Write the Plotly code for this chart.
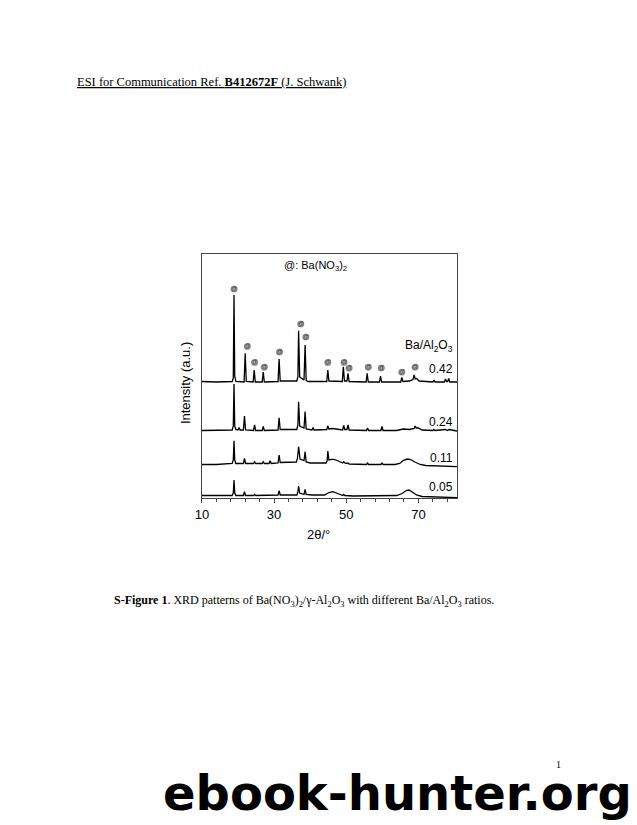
import plotly.graph_objects as go

# page is 637x825; the browser body adds an 8px margin, so the figure is 8px smaller
OFF = 8
W, H = 637 - OFF, 825 - OFF

# ---- data (2θ in degrees, intensity in arbitrary offset units) ----
x_042 = [10.0, 14.0, 18.4, 18.7, 18.9, 19.1, 19.4, 21.7, 22.0, 22.3, 24.2, 24.5, 24.8, 26.7, 27.0, 27.3,
         31.1, 31.4, 31.7, 36.3, 36.6, 36.8, 37.1, 38.3, 38.6, 38.9, 39.5, 44.6, 44.9, 45.2, 48.9, 49.2,
         49.5, 50.2, 50.5, 50.8, 55.5, 55.8, 56.1, 59.2, 59.5, 59.8, 65.1, 65.4, 65.7, 67.5, 68.5, 68.8,
         69.1, 69.5, 70.2, 74.0, 74.3, 74.6, 77.2, 77.5, 77.8, 78.1, 78.4, 78.7, 80.7]
y_042 = [116.5, 116, 116.5, 120, 203, 122, 116.5, 116, 144.7, 116.5, 116, 128, 116, 116, 126, 116,
         116.5, 139, 117, 117, 121, 167.3, 121, 118, 153, 117.5, 116.5, 116.5, 128, 117, 116.5, 131.3,
         117, 117, 124.7, 116.5, 116, 124.7, 116, 116, 122, 116, 116, 120.7, 116.5, 117, 118.5, 123,
         119, 119.5, 117, 116, 118, 116, 116, 119, 116.5, 116.5, 119.5, 116, 116]

x_024 = [10.0, 14.0, 18.4, 18.7, 18.9, 19.1, 19.4, 20.0, 20.3, 20.6, 21.5, 21.8, 22.1, 24.3, 24.6, 24.9,
         26.7, 27.0, 27.3, 31.1, 31.4, 31.7, 36.3, 36.6, 36.8, 37.1, 38.3, 38.6, 38.9, 40.5, 40.8, 41.1,
         44.6, 44.9, 45.2, 46.2, 47.5, 49.0, 49.3, 49.6, 50.2, 50.5, 50.8, 55.6, 55.9, 56.2, 59.6, 59.9,
         60.2, 64.0, 65.8, 67.5, 68.8, 69.1, 69.4, 70.0, 71.0, 74.0, 74.3, 74.6, 77.5, 78.0, 78.5, 80.7]
y_024 = [67.5, 67.5, 68, 72, 114, 72, 68.5, 68, 70.5, 68, 68, 82, 68, 67.5, 73, 67.5,
         67.5, 71.5, 67.5, 68, 80.3, 68.5, 68.5, 73, 96.3, 72, 70, 86.5, 69, 68, 70.5, 68,
         68.5, 72, 69, 69.5, 68.5, 68, 72.5, 68.5, 68.5, 73, 68, 67.5, 70, 67.5, 67.5, 71.5,
         67.5, 67.5, 69, 68.5, 69.5, 72, 70, 70, 68, 67.5, 68.5, 67.5, 68.5, 67.5, 68.5, 67]

x_011 = [10.0, 14.0, 18.4, 18.7, 18.9, 19.1, 19.4, 21.5, 21.8, 22.1, 24.3, 24.6, 24.9, 26.7, 27.0, 27.3,
         28.6, 28.9, 29.2, 31.1, 31.4, 31.7, 36.2, 36.5, 36.8, 37.2, 38.3, 38.6, 38.9, 40.0, 44.4, 44.7,
         44.9, 45.2, 46.0, 46.6, 47.5, 48.5, 49.0, 49.3, 49.6, 50.2, 50.5, 50.8, 55.6, 55.9, 56.2, 59.6,
         59.9, 60.2, 63.5, 64.8, 66.0, 67.0, 67.8, 69.0, 70.5, 72.0, 76.0, 80.7]
y_011 = [33.5, 33.5, 34.5, 38, 57.3, 38, 34.5, 34.5, 39.7, 34.5, 34.5, 36.3, 34.5, 34.5, 36.3, 34.5,
         34.5, 37.3, 34.5, 35, 43, 35.5, 36, 40, 51.3, 39, 37.5, 46.3, 36, 35, 35, 37,
         47, 38, 38.7, 38.7, 37.5, 35.5, 35, 36.3, 35, 34.5, 35, 34, 33.5, 35, 33.5, 33.5,
         35, 33.5, 33.5, 34.5, 38, 39, 38.5, 36, 33.5, 32.5, 32, 31.3]

x_005 = [10.0, 14.0, 18.4, 18.7, 18.9, 19.1, 19.4, 21.5, 21.8, 22.1, 24.3, 24.6, 24.9, 31.1, 31.4, 31.7,
         36.3, 36.6, 36.8, 37.1, 38.3, 38.6, 38.9, 40.5, 44.0, 45.2, 46.3, 47.3, 48.5, 49.0, 49.3, 49.6,
         52.0, 60.0, 64.0, 65.5, 66.6, 67.4, 68.3, 69.5, 71.0, 74.0, 80.7]
y_005 = [2.5, 2.5, 2.5, 5, 18, 5, 2.5, 2.5, 6.3, 2.5, 2.5, 3.5, 2.5, 3, 7.3, 3,
         3, 6, 12, 5, 3.5, 8.7, 3.5, 3, 3, 5.5, 6.3, 5, 3.5, 2.5, 3.5, 2.5,
         2, 2, 2.5, 4.5, 7.5, 8, 6, 3, 1.5, 1, 0.3]

series_x = [x_042, x_024, x_011, x_005]
series_y = [y_042, y_024, y_011, y_005]
series_labels = ["0.42", "0.24", "0.11", "0.05"]
label_y = [129, 76.3, 40, 11]          # label positions in data units

# Ba(NO3)2 reflection markers (@)
marker_x = [18.9, 22.6, 24.6, 27.3, 31.5, 37.4, 38.8, 44.9, 49.4, 50.8, 56.1, 59.7, 65.4, 69.1]
marker_y = [209, 151.3, 135.3, 130.7, 146, 174, 161, 135.3, 135.3, 129.7, 130.7, 130, 125.7, 130.7]

x_ticks = [10, 30, 50, 70]

# ---- layout geometry (target pixels on the 637x825 page) ----
PL, PR, PT, PB = 197, 455, 254, 498
def px(x):
    return (x - OFF) / W
def py(y):
    return 1 - (y - OFF) / H

fig = go.Figure()
for xs, ys in zip(series_x, series_y):
    fig.add_trace(go.Scatter(x=xs, y=ys, mode="lines",
                             line=dict(color="black", width=1.3), showlegend=False, hoverinfo="skip"))

fig.add_trace(go.Scatter(x=marker_x, y=marker_y, mode="markers+text", text=["@"] * len(marker_x),
                         textposition="middle center",
                         textfont=dict(family="Liberation Sans, Arial", size=7, color="#333"),
                         marker=dict(size=7, color="#b0b0b0", line=dict(width=0)),
                         showlegend=False, hoverinfo="skip"))

for lab, yl in zip(series_labels, label_y):
    fig.add_annotation(x=80.2, y=yl, xref="x", yref="y", text=lab, showarrow=False,
                       xanchor="right", yanchor="middle",
                       font=dict(family="Liberation Sans, Arial", size=12, color="black"))

sans = "Liberation Sans, Arial"
serif = "Liberation Serif, Times New Roman"
LSH = 7   # left-anchored text correction

annots = [
    dict(x=px(453), y=py(346), text="Ba/Al<sub>2</sub>O<sub>3</sub>", xanchor="right",
         font=dict(family=sans, size=12, color="black")),
    dict(x=px(312), y=py(266), text="@: Ba(NO<sub>3</sub>)<sub>2</sub>", xanchor="center",
         font=dict(family=sans, size=11, color="black")),
    dict(x=px(315), y=py(534), text="2θ/°", xanchor="center",
         font=dict(family=sans, size=13, color="black")),
    dict(x=px(180), y=py(383), text="Intensity (a.u.)", textangle=-90, xanchor="center",
         font=dict(family=sans, size=13, color="black")),
    dict(x=px(76 - LSH), y=py(82), text="<u>ESI for Communication Ref. <b>B412672F</b> (J. Schwank)</u>",
         xanchor="left", font=dict(family=serif, size=12.5, color="black")),
    dict(x=px(113 - LSH), y=py(601),
         text="<b>S-Figure 1</b>. XRD patterns of Ba(NO<sub>3</sub>)<sub>2</sub>/γ-Al<sub>2</sub>O<sub>3</sub> "
              "with different Ba/Al<sub>2</sub>O<sub>3</sub> ratios.",
         xanchor="left", font=dict(family=serif, size=12, color="black")),
    dict(x=px(558), y=py(764), text="1", xanchor="center",
         font=dict(family=serif, size=10, color="black")),
    dict(x=px(163 - LSH), y=py(793), text="<b>ebook-hunter.org</b>", xanchor="left",
         font=dict(family="DejaVu Sans", size=48, color="black")),
]
for a in annots:
    fig.add_annotation(xref="paper", yref="paper", showarrow=False, yanchor="middle", **a)

fig.update_layout(
    width=W, height=H, autosize=False,
    margin=dict(l=0, r=0, t=0, b=0),
    paper_bgcolor="white", plot_bgcolor="white",
    xaxis=dict(domain=[px(PL), px(PR)], range=[10, 80.7], showgrid=False, zeroline=False,
               showline=True, linecolor="#444", linewidth=1, mirror=True,
               tickvals=x_ticks, ticktext=[str(t) for t in x_ticks],
               ticks="outside", ticklen=4, tickcolor="#444",
               minor=dict(tick0=10, dtick=4, ticks="outside", ticklen=3, tickcolor="#444"),
               tickfont=dict(family=sans, size=13, color="black")),
    yaxis=dict(domain=[py(PB), py(PT)], range=[0, PB - PT], showgrid=False, zeroline=False,
               showline=True, linecolor="#444", linewidth=1, mirror=True,
               showticklabels=False, ticks=""),
)

fig.write_html("out.html")
